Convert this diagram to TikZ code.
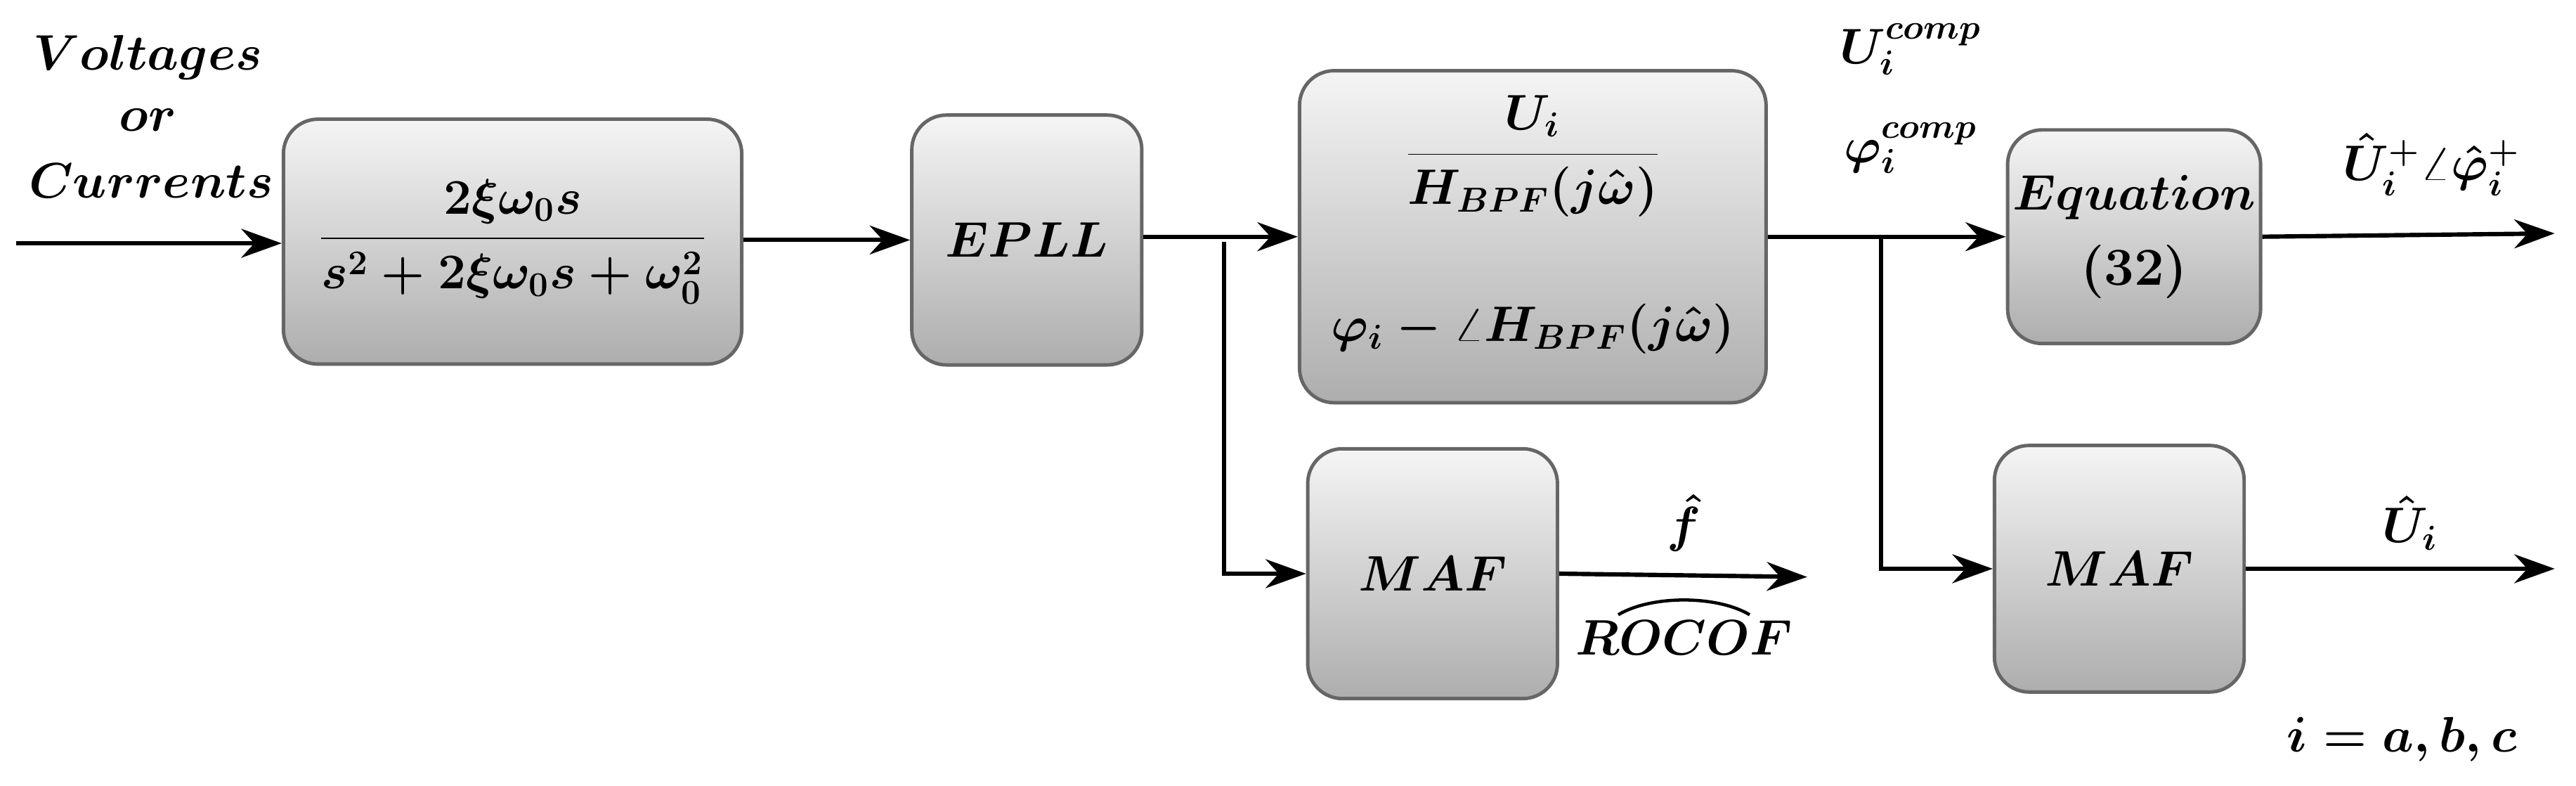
\documentclass[tikz,border=0pt]{standalone}
\usetikzlibrary{arrows.meta}
\begin{document}
\begin{tikzpicture}[x=0.02cm,y=-0.02cm,
  blk/.style={draw=black!60,line width=1.2pt,rounded corners=12pt,top color=black!4,bottom color=black!32,inner sep=0pt},
  ar/.style={-{Stealth[length=14pt,width=10pt]},line width=1.5pt},
  lbl/.style={font=\fontsize{18.5}{22}\selectfont\boldmath}]
\useasboundingbox (0,0) rectangle (1568,478);
\node[blk,minimum width=279*0.02cm,minimum height=149*0.02cm,lbl] (b1) at (312,147) {$\displaystyle\frac{2\xi\omega_0 s}{s^2+2\xi\omega_0 s+\omega_0^2}$};
\node[blk,minimum width=140*0.02cm,minimum height=152*0.02cm,lbl] (epll) at (625,146) {$EPLL$};
\node[blk,minimum width=284*0.02cm,minimum height=202*0.02cm,lbl] (b3) at (933,144) {};
\node[lbl] (b3a) at (933,95) {$\displaystyle\frac{U_i}{H_{BPF}(j\hat\omega)}$};
\node[lbl] (b3b) at (933,200) {$\varphi_i-\angle H_{BPF}(j\hat\omega)$};
\node[blk,minimum width=154*0.02cm,minimum height=130*0.02cm,lbl,align=center] (eq) at (1299,144) {$Equation$\\[4pt]\textbf{(32)}};
\node[blk,minimum width=152*0.02cm,minimum height=152*0.02cm,lbl] (maf1) at (872,349) {$MAF$};
\node[blk,minimum width=152*0.02cm,minimum height=150*0.02cm,lbl] (maf2) at (1290,346) {$MAF$};
\coordinate (in) at (10,148);
\coordinate (s1) at (745,147);
\coordinate (s2) at (1145,144);
\coordinate (o1) at (1100,351);
\coordinate (o2) at (1555,142);
\coordinate (o3) at (1555,346);
\draw[ar] (in) -- (b1.west|-in);
\draw[ar] (b1.east|-epll) -- (epll.west);
\draw[ar] (epll.east|-b3) -- (b3.west);
\draw[ar] (s1) |- (maf1.west);
\draw[ar] (maf1.east) -- (o1);
\draw[ar] (b3.east) -- (eq.west);
\draw[ar] (s2) |- (maf2.west);
\draw[ar] (eq.east) -- (o2);
\draw[ar] (maf2.east) -- (o3);
\node[lbl] (t1) at (90,35) {$Voltages$};
\node[lbl] (t2) at (90,73) {$or$};
\node[lbl] (t3) at (92,110) {$Currents$};
\node[lbl] (t4) at (1163,30) {$U_i^{comp}$};
\node[lbl] (t5) at (1163,90) {$\varphi_i^{comp}$};
\node[lbl] (t6) at (1480,100) {$\hat U_i^{+}\angle\hat\varphi_i^{+}$};
\node[lbl] (t7) at (1025,318) {$\hat f$};
\node[lbl] (t8) at (1025,388) {$ROCOF$};
\draw[line width=1.1pt] (985,374) .. controls (1005,362) and (1045,362) .. (1065,374);
\node[lbl] (t9) at (1467,318) {$\hat U_i$};
\node[lbl] (t10) at (1462,450) {$i=a,b,c$};
\end{tikzpicture}
\end{document}
